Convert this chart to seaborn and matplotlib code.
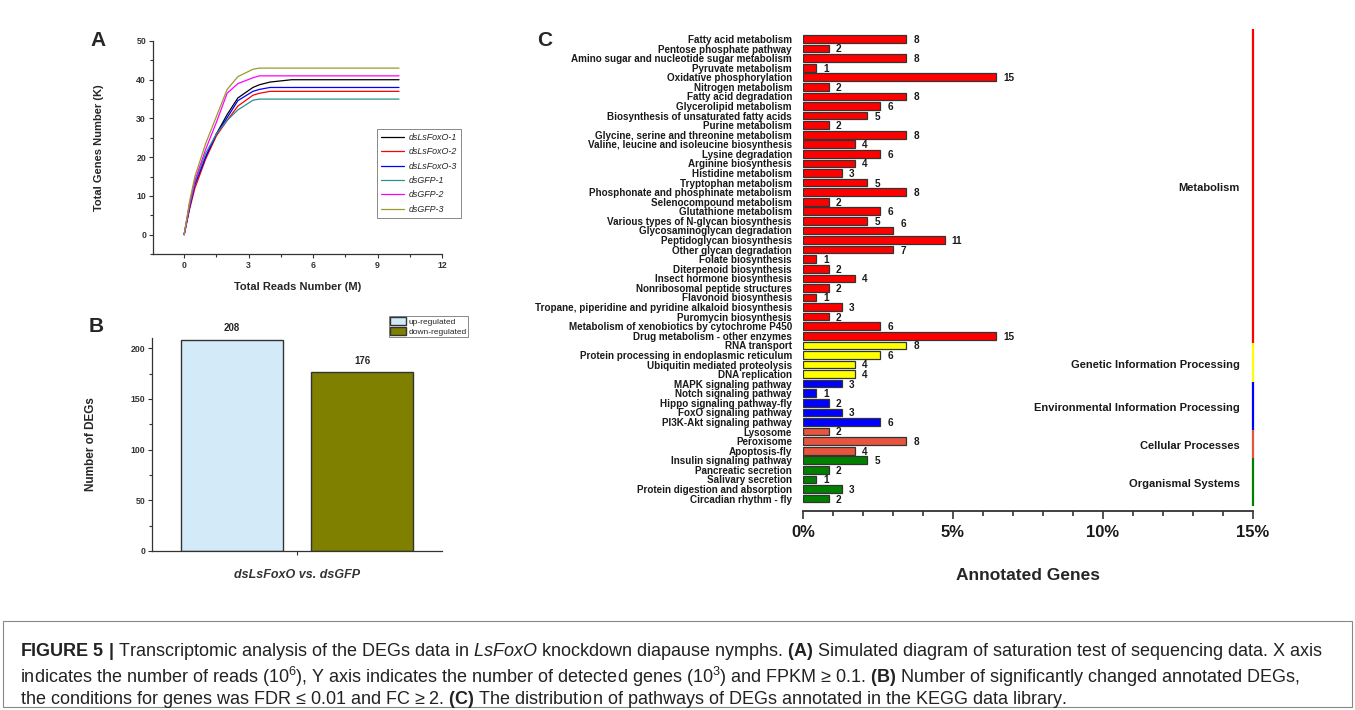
import seaborn as sns
import pandas as pd
import matplotlib.pyplot as plt
from matplotlib.patches import Rectangle
from matplotlib.ticker import MultipleLocator, FuncFormatter

# ---------------- data ----------------
# panel A: saturation curves (x in M reads, y in K genes)
reads_m = [0, 0.25, 0.5, 1, 1.5, 2, 2.5, 3.2, 3.5, 4, 5, 10]
ds_lsfoxo_1 = [0, 7, 13, 20, 26, 31, 35.3, 38, 38.7, 39.4, 40, 40]
ds_lsfoxo_2 = [0, 6.5, 12, 19.5, 25.5, 29.5, 33.2, 36, 36.5, 37, 37, 37]
ds_lsfoxo_3 = [0, 7, 13, 20, 26, 30.2, 34.6, 37, 37.5, 38, 38, 38]
ds_gfp_1 = [0, 7.5, 13.5, 21, 26, 29.5, 32.2, 34.7, 35, 35, 35, 35]
ds_gfp_2 = [0, 8, 14, 22, 29, 36.5, 39, 40.5, 41, 41, 41, 41]
ds_gfp_3 = [0, 8.5, 15, 23.5, 30.5, 37.5, 40.8, 42.7, 43, 43, 43, 43]
sample_names = ["dsLsFoxO-1", "dsLsFoxO-2", "dsLsFoxO-3", "dsGFP-1", "dsGFP-2", "dsGFP-3"]
sample_colors = ["#000000", "#FF0000", "#0000FF", "#2A9090", "#FF00FF", "#9A9A2E"]

# panel B: DEG counts
comparison = ["dsLsFoxO vs. dsGFP"]
regulation = ["up-regulated", "down-regulated"]
deg_counts = [208, 176]
deg_colors = ["#D3EAF9", "#808000"]

# panel C: KEGG pathways
pathways = [
    "Fatty acid metabolism", "Pentose phosphate pathway",
    "Amino sugar and nucleotide sugar metabolism", "Pyruvate metabolism",
    "Oxidative phosphorylation", "Nitrogen metabolism", "Fatty acid degradation",
    "Glycerolipid metabolism", "Biosynthesis of unsaturated fatty acids",
    "Purine metabolism", "Glycine, serine and threonine metabolism",
    "Valine, leucine and isoleucine biosynthesis", "Lysine degradation",
    "Arginine biosynthesis", "Histidine metabolism", "Tryptophan metabolism",
    "Phosphonate and phosphinate metabolism", "Selenocompound metabolism",
    "Glutathione metabolism", "Various types of N-glycan biosynthesis",
    "Glycosaminoglycan degradation", "Peptidoglycan biosynthesis",
    "Other glycan degradation", "Folate biosynthesis", "Diterpenoid biosynthesis",
    "Insect hormone biosynthesis", "Nonribosomal peptide structures",
    "Flavonoid biosynthesis", "Tropane, piperidine and pyridine alkaloid biosynthesis",
    "Puromycin biosynthesis", "Metabolism of xenobiotics by cytochrome P450",
    "Drug metabolism - other enzymes",
    "RNA transport", "Protein processing in endoplasmic reticulum",
    "Ubiquitin mediated proteolysis", "DNA replication",
    "MAPK signaling pathway", "Notch signaling pathway", "Hippo signaling pathway-fly",
    "FoxO signaling pathway", "PI3K-Akt signaling pathway",
    "Lysosome", "Peroxisome", "Apoptosis-fly",
    "Insulin signaling pathway", "Pancreatic secretion", "Salivary secretion",
    "Protein digestion and absorption", "Circadian rhythm - fly",
]
gene_counts = [8, 2, 8, 1, 15, 2, 8, 6, 5, 2, 8, 4, 6, 4, 3, 5, 8, 2, 6, 5, 7, 11, 7,
               1, 2, 4, 2, 1, 3, 2, 6, 15,
               8, 6, 4, 4,
               3, 1, 2, 3, 6,
               2, 8, 4,
               5, 2, 1, 3, 2]
count_labels = [8, 2, 8, 1, 15, 2, 8, 6, 5, 2, 8, 4, 6, 4, 3, 5, 8, 2, 6, 5, 6, 11, 7,
                1, 2, 4, 2, 1, 3, 2, 6, 15,
                8, 6, 4, 4,
                3, 1, 2, 3, 6,
                2, 8, 4,
                5, 2, 1, 3, 2]
groups = ["Metabolism", "Genetic Information Processing",
          "Environmental Information Processing", "Cellular Processes",
          "Organismal Systems"]
group_sizes = [32, 4, 5, 3, 5]
group_colors = ["#FF0000", "#FFFF00", "#0000FF", "#E8553E", "#008000"]
total_annotated = 233

# ---------------- style ----------------
sns.set_style("ticks")
plt.rcParams["font.family"] = ["Liberation Sans", "DejaVu Sans"]
plt.rcParams["mathtext.fontset"] = "custom"
plt.rcParams["mathtext.rm"] = "Liberation Sans"
plt.rcParams["mathtext.it"] = "Liberation Sans:italic"
plt.rcParams["mathtext.bf"] = "Liberation Sans:bold"
plt.rcParams["axes.edgecolor"] = "#333333"
plt.rcParams["xtick.color"] = "#333333"
plt.rcParams["ytick.color"] = "#333333"

W, H = 1355, 710
fig = plt.figure(figsize=(W / 100, H / 100), dpi=100)
fig.patch.set_facecolor("white")


def px_axes(left, top, right, bottom):
    return fig.add_axes([left / W, 1 - bottom / H, (right - left) / W, (bottom - top) / H])


# ---------------- panel A ----------------
axA = px_axes(153, 41, 442, 254)
series = [ds_lsfoxo_1, ds_lsfoxo_2, ds_lsfoxo_3, ds_gfp_1, ds_gfp_2, ds_gfp_3]
dfA = pd.DataFrame({
    "reads": reads_m * len(sample_names),
    "genes": [v for s in series for v in s],
    "sample": [n for n in sample_names for _ in reads_m],
})
sns.lineplot(data=dfA, x="reads", y="genes", hue="sample", hue_order=sample_names,
             palette=dict(zip(sample_names, sample_colors)), estimator=None,
             sort=False, linewidth=0.9, ax=axA)
axA.set_xlim(-1.45, 12)
axA.set_ylim(-5, 50)
axA.xaxis.set_major_locator(MultipleLocator(3))
axA.xaxis.set_minor_locator(MultipleLocator(1.5))
axA.yaxis.set_major_locator(MultipleLocator(10))
axA.yaxis.set_minor_locator(MultipleLocator(5))
axA.tick_params(which="major", length=3, width=0.8, labelsize=6.3, pad=2)
axA.tick_params(which="minor", length=2, width=0.8)
for lab in axA.get_xticklabels() + axA.get_yticklabels():
    lab.set_fontweight("bold")
sns.despine(ax=axA)
for sp in axA.spines.values():
    sp.set_linewidth(0.9)
axA.set_xlabel("Total Reads Number (M)", fontsize=8, fontweight="bold")
axA.set_ylabel("Total Genes Number (K)", fontsize=8, fontweight="bold")
axA.xaxis.set_label_coords(0.5, -0.13)
axA.yaxis.set_label_coords(-0.17, 0.5)
legA = axA.legend(loc="upper left", bbox_to_anchor=((377 - 153) / 289, (254 - 129) / 213),
                  fontsize=6.4, frameon=True, fancybox=False, edgecolor="#888888",
                  framealpha=1, handlelength=2.6, labelspacing=0.6, borderpad=0.45,
                  handletextpad=0.5, borderaxespad=0)
legA.get_frame().set_linewidth(0.7)
for t in legA.get_texts():
    t.set_fontstyle("italic")

# ---------------- panel B ----------------
axB = px_axes(152, 338, 442, 551)
dfB = pd.DataFrame({"comparison": comparison * len(regulation),
                    "regulation": regulation, "count": deg_counts})
sns.barplot(data=dfB, x="comparison", y="count", hue="regulation", hue_order=regulation,
            palette=dict(zip(regulation, deg_colors)), saturation=1, width=1.8, gap=0.22,
            edgecolor="#333333", linewidth=1, ax=axB)
axB.set_xlim(-1, 1)
axB.set_ylim(0, 210)
axB.yaxis.set_major_locator(MultipleLocator(50))
axB.yaxis.set_minor_locator(MultipleLocator(25))
axB.tick_params(which="major", length=3, width=0.8, labelsize=6.3, pad=2)
axB.tick_params(which="minor", length=2, width=0.8)
axB.tick_params(axis="x", labelsize=9, pad=10)
for lab in axB.get_yticklabels():
    lab.set_fontweight("bold")
for lab in axB.get_xticklabels():
    lab.set_fontweight("bold")
    lab.set_fontstyle("italic")
sns.despine(ax=axB)
for sp in axB.spines.values():
    sp.set_linewidth(0.9)
axB.set_xlabel("")
axB.set_ylabel("Number of DEGs", fontsize=8.5, fontweight="bold")
axB.yaxis.set_label_coords(-0.19, 0.5)
for cont in axB.containers:
    axB.bar_label(cont, fontsize=7, fontweight="bold", padding=5)
legB = axB.legend(loc="upper left", bbox_to_anchor=((389 - 152) / 290, (551 - 316) / 213),
                  fontsize=6.0, frameon=True, fancybox=False, edgecolor="#888888",
                  framealpha=1, handlelength=1.9, handleheight=1.0, labelspacing=0.15,
                  borderpad=0.15, handletextpad=0.3, borderaxespad=0)
legB.get_frame().set_linewidth(0.7)

# ---------------- panel C ----------------
axC = px_axes(803, 29, 1253, 511)
group_col = [g for g, n in zip(groups, group_sizes) for _ in range(n)]
dfC = pd.DataFrame({"pathway": pathways, "count": gene_counts, "group": group_col})
dfC["percent"] = dfC["count"] / total_annotated * 100
sns.barplot(data=dfC, x="percent", y="pathway", hue="group", hue_order=groups,
            palette=dict(zip(groups, group_colors)), saturation=1, dodge=False, width=0.8,
            edgecolor="#333333", linewidth=0.9, legend=False, ax=axC)
axC.set_xlim(0, 15)
axC.set_ylim(49.3, -1.04)
axC.xaxis.set_major_locator(MultipleLocator(5))
axC.xaxis.set_minor_locator(MultipleLocator(1))
axC.xaxis.set_major_formatter(FuncFormatter(lambda v, p: f"{v:.0f}%"))
axC.tick_params(axis="x", which="major", length=6, width=1.2, labelsize=12, pad=4)
axC.tick_params(axis="x", which="minor", length=3.5, width=1.2)
axC.tick_params(axis="y", length=0, labelsize=7.1, pad=8)
for lab in axC.get_xticklabels() + axC.get_yticklabels():
    lab.set_fontweight("bold")
    lab.set_color("#1a1a1a")
for side in ["top", "right", "left"]:
    axC.spines[side].set_visible(False)
axC.spines["bottom"].set_linewidth(1.3)
axC.set_ylabel("")
axC.set_xlabel("Annotated Genes", fontsize=12.5, fontweight="bold", labelpad=20)

# value labels next to bars
shift = {"Glycosaminoglycan degradation": -0.8}
for i, (name, pct, lab) in enumerate(zip(pathways, dfC["percent"], count_labels)):
    axC.text(pct + 0.24, i + shift.get(name, 0) + 0.1, str(lab), fontsize=7.2,
             fontweight="bold", ha="left", va="center", color="#1a1a1a")

# category bracket line and labels on the right
start = -1.04
row = 0
for g, n, c in zip(groups, group_sizes, group_colors):
    row += n
    end = row - 1 + 0.8
    axC.vlines(15, start, end, colors=c, linewidth=1.6, clip_on=False)
    axC.text(14.57, (start + end) / 2 + 0.2, g, fontsize=8, fontweight="bold",
             ha="right", va="center", color="#1a1a1a")
    start = end

# ---------------- panel letters ----------------
for letter, x, y in [("A", 90, 40.5), ("B", 89, 326), ("C", 537, 41)]:
    fig.text(x / W, 1 - y / H, letter, fontsize=15, fontweight="bold", ha="left", va="center")

# ---------------- caption ----------------
fig.patches.append(Rectangle((3 / W, 1 - 707 / H), 1349 / W, 86 / H, transform=fig.transFigure,
                             fill=False, edgecolor="#888888", linewidth=0.8))
cap1 = (r"$\mathbf{FIGURE\ 5\ |}$ Transcriptomic analysis of the DEGs data in "
        r"$\mathit{LsFoxO}$ knockdown diapause nymphs. $\mathbf{(A)}$ Simulated diagram "
        r"of saturation test of sequencing data. X axis")
cap2 = (r"indicates the number of reads (10$^6$), Y axis indicates the number of detected "
        r"genes (10$^3$) and FPKM ≥ 0.1. $\mathbf{(B)}$ Number of significantly changed "
        r"annotated DEGs,")
cap3 = (r"the conditions for genes was FDR ≤ 0.01 and FC ≥ 2. $\mathbf{(C)}$ The distribution "
        r"of pathways of DEGs annotated in the KEGG data library.")
for txt, y in [(cap1, 652), (cap2, 677), (cap3, 700)]:
    fig.text(20 / W, 1 - y / H, txt, fontsize=13, ha="left", va="center", color="#222222")

fig.savefig("out.png", dpi=100, facecolor="white")
